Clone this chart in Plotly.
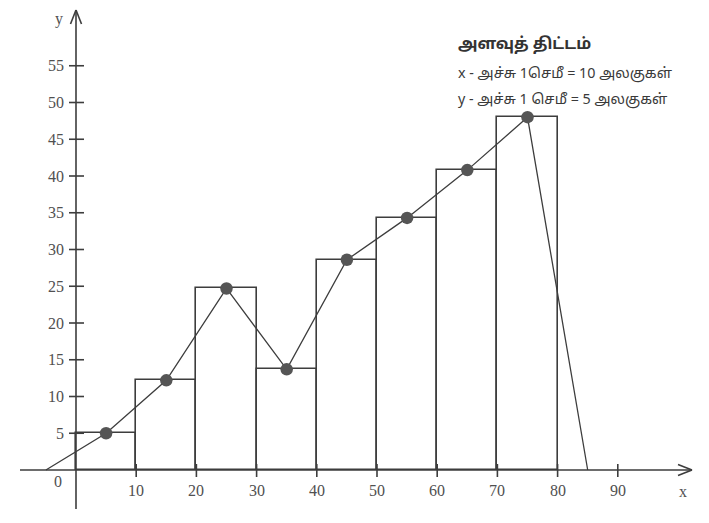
import plotly.graph_objects as go

# ---- data ----
class_lower = [0, 10, 20, 30, 40, 50, 60, 70]
class_upper = [10, 20, 30, 40, 50, 60, 70, 80]
frequencies = [5, 12.2, 24.7, 13.7, 28.6, 34.3, 40.8, 48]
poly_start_x = -5
poly_end_x = 85
x_ticks = [10, 20, 30, 40, 50, 60, 70, 80, 90]
y_ticks = [5, 10, 15, 20, 25, 30, 35, 40, 45, 50, 55]
title_lines = ["அளவுத் திட்டம்",
               "x - அச்சு 1செமீ = 10 அலகுகள்",
               "y - அச்சு 1 செமீ = 5 அலகுகள்"]

W, H = 709, 523
OFF = 8  # page body margin
# pixel mapping (layout constants), screen px minus page offset
X0PX, XPU = 76 - OFF, 6.02
Y0PX, YPU = 470 - OFF, 7.35
def xu(px): return (px - OFF - X0PX) / XPU
def yu(px): return (Y0PX - (px - OFF)) / YPU

mids = [(a + b) / 2 for a, b in zip(class_lower, class_upper)]
widths = [b - a for a, b in zip(class_lower, class_upper)]

INK = "#3d3d3d"
TXT = "#505050"

fig = go.Figure()
fig.add_trace(go.Bar(x=mids, y=frequencies, width=widths,
                     marker=dict(color="white", line=dict(color=INK, width=1.6)),
                     hoverinfo="skip"))
poly_x = [poly_start_x] + mids + [poly_end_x]
poly_y = [0] + frequencies + [0]
fig.add_trace(go.Scatter(x=poly_x, y=poly_y, mode="lines",
                         line=dict(color=INK, width=1.3), hoverinfo="skip"))
fig.add_trace(go.Scatter(x=mids, y=frequencies, mode="markers",
                         marker=dict(color="#555555", size=12.5), hoverinfo="skip"))

shapes = []
ln = dict(color=INK, width=1.6)
# axes
x_end = xu(692)
y_top = yu(10)
shapes.append(dict(type="line", xref="x", yref="y", x0=xu(20), x1=x_end, y0=0, y1=0, line=ln))
shapes.append(dict(type="line", xref="x", yref="y", x0=0, x1=0, y0=yu(509), y1=y_top, line=ln))
# arrowheads (open V)
for s in (1, -1):
    shapes.append(dict(type="line", xref="x", yref="y", x0=x_end, y0=0,
                       x1=x_end - 14 / XPU, y1=s * 5.5 / YPU, line=ln))
    shapes.append(dict(type="line", xref="x", yref="y", x0=0, y0=y_top,
                       x1=s * 5.5 / XPU, y1=y_top - 14 / YPU, line=ln))
# ticks
for t in y_ticks:
    shapes.append(dict(type="line", xref="x", yref="y", x0=-7 / XPU, x1=8 / XPU,
                       y0=t, y1=t, line=ln))
for t in x_ticks:
    shapes.append(dict(type="line", xref="x", yref="y", x0=t, x1=t,
                       y0=-7 / YPU, y1=6 / YPU, line=ln))

ann = []
tick_font = dict(family="Liberation Serif, DejaVu Serif, serif", size=16, color=TXT)
for t in y_ticks:
    ann.append(dict(x=0, y=t, xref="x", yref="y", text=str(t), showarrow=False,
                    xanchor="right", yanchor="middle", xshift=-10, font=tick_font))
for t in x_ticks:
    ann.append(dict(x=t, y=0, xref="x", yref="y", text=str(t), showarrow=False,
                    xanchor="center", yanchor="top", yshift=-10, font=tick_font))
ann.append(dict(x=0, y=0, xref="x", yref="y", text="0", showarrow=False,
                xanchor="center", yanchor="top", xshift=-18, yshift=-1, font=tick_font))
ann.append(dict(x=0, y=y_top, xref="x", yref="y", text="y", showarrow=False,
                xanchor="center", yanchor="middle", xshift=-17, yshift=-9, font=tick_font))
ann.append(dict(x=x_end, y=0, xref="x", yref="y", text="x", showarrow=False,
                xanchor="center", yanchor="middle", xshift=-9, yshift=-21, font=tick_font))

tam = "Noto Sans Tamil, Lohit Tamil, Noto Serif Tamil, Liberation Serif, serif"
def px_paper_x(px): return (px - OFF) / W
def px_paper_y(px): return 1 - (px - OFF) / H
ann.append(dict(x=px_paper_x(456), y=px_paper_y(45), xref="paper", yref="paper",
                text="<b>" + title_lines[0] + "</b>",
                showarrow=False, xanchor="left", yanchor="middle",
                font=dict(family=tam, size=16, color="#333333")))
ann.append(dict(x=px_paper_x(456), y=px_paper_y(74), xref="paper", yref="paper", text=title_lines[1],
                showarrow=False, xanchor="left", yanchor="middle",
                font=dict(family=tam, size=14.3, color="#3a3a3a")))
ann.append(dict(x=px_paper_x(456), y=px_paper_y(100), xref="paper", yref="paper", text=title_lines[2],
                showarrow=False, xanchor="left", yanchor="middle",
                font=dict(family=tam, size=14.3, color="#3a3a3a")))

fig.update_layout(
    width=W, height=H, margin=dict(l=0, r=0, t=0, b=0),
    paper_bgcolor="white", plot_bgcolor="white", showlegend=False,
    xaxis=dict(range=[xu(OFF), xu(W + OFF)], visible=False, fixedrange=True),
    yaxis=dict(range=[yu(H + OFF), yu(OFF)], visible=False, fixedrange=True),
    shapes=shapes, annotations=ann, bargap=0,
)
fig.write_html("out.html")
